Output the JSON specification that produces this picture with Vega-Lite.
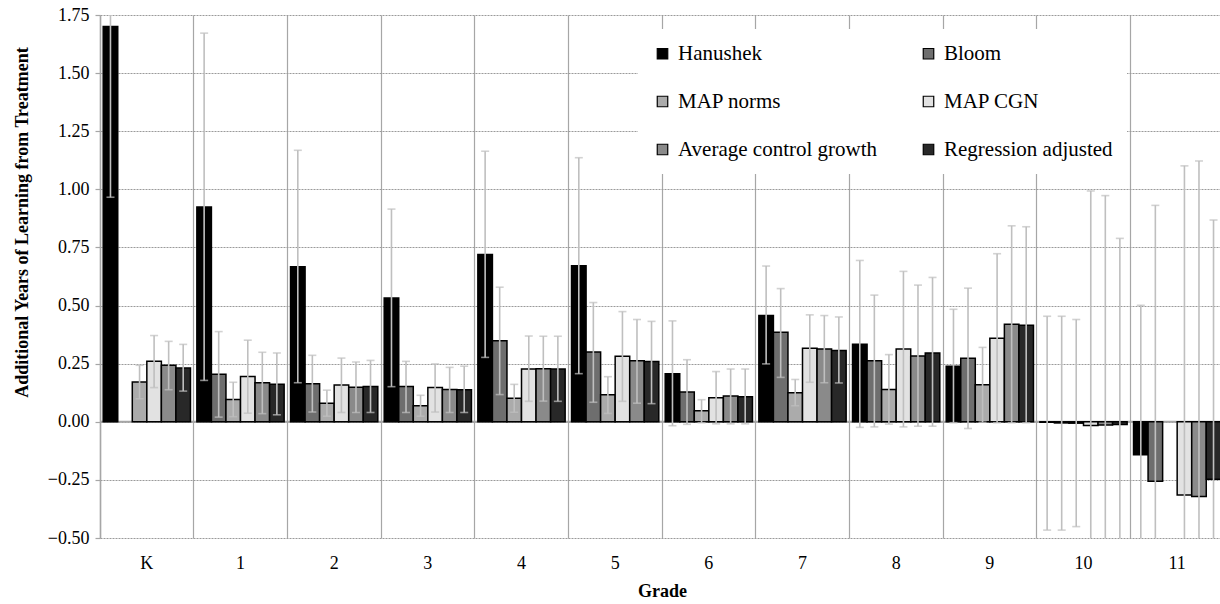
{
  "$schema": "https://vega.github.io/schema/vega-lite/v6.json",
  "width": 1120,
  "height": 523,
  "autosize": {"type": "none"},
  "padding": {"left": 100, "top": 15, "right": 0, "bottom": 66},
  "background": "white",
  "config": {
    "view": {"stroke": null},
    "font": "Liberation Serif, Times New Roman, DejaVu Serif, serif"
  },
  "data": {
    "values": [
      {"grade": "K", "series": "Hanushek", "v": 1.70, "lo": 0.966, "hi": 2.43},
      {"grade": "K", "series": "MAP norms", "v": 0.171, "lo": 0.099, "hi": 0.243},
      {"grade": "K", "series": "MAP CGN", "v": 0.260, "lo": 0.147, "hi": 0.371},
      {"grade": "K", "series": "Average control growth", "v": 0.243, "lo": 0.138, "hi": 0.346},
      {"grade": "K", "series": "Regression adjusted", "v": 0.231, "lo": 0.132, "hi": 0.333},

      {"grade": "1", "series": "Hanushek", "v": 0.924, "lo": 0.178, "hi": 1.672},
      {"grade": "1", "series": "Bloom", "v": 0.204, "lo": 0.020, "hi": 0.388},
      {"grade": "1", "series": "MAP norms", "v": 0.096, "lo": 0.022, "hi": 0.170},
      {"grade": "1", "series": "MAP CGN", "v": 0.195, "lo": 0.037, "hi": 0.351},
      {"grade": "1", "series": "Average control growth", "v": 0.168, "lo": 0.035, "hi": 0.299},
      {"grade": "1", "series": "Regression adjusted", "v": 0.161, "lo": 0.030, "hi": 0.296},

      {"grade": "2", "series": "Hanushek", "v": 0.667, "lo": 0.168, "hi": 1.168},
      {"grade": "2", "series": "Bloom", "v": 0.164, "lo": 0.042, "hi": 0.286},
      {"grade": "2", "series": "MAP norms", "v": 0.080, "lo": 0.024, "hi": 0.136},
      {"grade": "2", "series": "MAP CGN", "v": 0.158, "lo": 0.040, "hi": 0.274},
      {"grade": "2", "series": "Average control growth", "v": 0.149, "lo": 0.040, "hi": 0.257},
      {"grade": "2", "series": "Regression adjusted", "v": 0.152, "lo": 0.040, "hi": 0.264},

      {"grade": "3", "series": "Hanushek", "v": 0.532, "lo": 0.151, "hi": 0.915},
      {"grade": "3", "series": "Bloom", "v": 0.152, "lo": 0.040, "hi": 0.260},
      {"grade": "3", "series": "MAP norms", "v": 0.069, "lo": 0.024, "hi": 0.114},
      {"grade": "3", "series": "MAP CGN", "v": 0.147, "lo": 0.042, "hi": 0.249},
      {"grade": "3", "series": "Average control growth", "v": 0.139, "lo": 0.040, "hi": 0.234},
      {"grade": "3", "series": "Regression adjusted", "v": 0.138, "lo": 0.040, "hi": 0.239},

      {"grade": "4", "series": "Hanushek", "v": 0.720, "lo": 0.277, "hi": 1.164},
      {"grade": "4", "series": "Bloom", "v": 0.349, "lo": 0.117, "hi": 0.579},
      {"grade": "4", "series": "MAP norms", "v": 0.101, "lo": 0.041, "hi": 0.161},
      {"grade": "4", "series": "MAP CGN", "v": 0.227, "lo": 0.088, "hi": 0.369},
      {"grade": "4", "series": "Average control growth", "v": 0.228, "lo": 0.089, "hi": 0.368},
      {"grade": "4", "series": "Regression adjusted", "v": 0.227, "lo": 0.088, "hi": 0.368},

      {"grade": "5", "series": "Hanushek", "v": 0.671, "lo": 0.207, "hi": 1.136},
      {"grade": "5", "series": "Bloom", "v": 0.300, "lo": 0.084, "hi": 0.513},
      {"grade": "5", "series": "MAP norms", "v": 0.116, "lo": 0.036, "hi": 0.194},
      {"grade": "5", "series": "MAP CGN", "v": 0.282, "lo": 0.088, "hi": 0.474},
      {"grade": "5", "series": "Average control growth", "v": 0.263, "lo": 0.080, "hi": 0.440},
      {"grade": "5", "series": "Regression adjusted", "v": 0.259, "lo": 0.078, "hi": 0.432},

      {"grade": "6", "series": "Hanushek", "v": 0.207, "lo": -0.017, "hi": 0.434},
      {"grade": "6", "series": "Bloom", "v": 0.128, "lo": -0.011, "hi": 0.267},
      {"grade": "6", "series": "MAP norms", "v": 0.047, "lo": -0.004, "hi": 0.095},
      {"grade": "6", "series": "MAP CGN", "v": 0.103, "lo": -0.009, "hi": 0.216},
      {"grade": "6", "series": "Average control growth", "v": 0.111, "lo": -0.009, "hi": 0.227},
      {"grade": "6", "series": "Regression adjusted", "v": 0.108, "lo": -0.009, "hi": 0.227},

      {"grade": "7", "series": "Hanushek", "v": 0.457, "lo": 0.249, "hi": 0.670},
      {"grade": "7", "series": "Bloom", "v": 0.385, "lo": 0.191, "hi": 0.573},
      {"grade": "7", "series": "MAP norms", "v": 0.125, "lo": 0.069, "hi": 0.182},
      {"grade": "7", "series": "MAP CGN", "v": 0.316, "lo": 0.170, "hi": 0.460},
      {"grade": "7", "series": "Average control growth", "v": 0.313, "lo": 0.168, "hi": 0.457},
      {"grade": "7", "series": "Regression adjusted", "v": 0.307, "lo": 0.167, "hi": 0.451},

      {"grade": "8", "series": "Hanushek", "v": 0.333, "lo": -0.024, "hi": 0.694},
      {"grade": "8", "series": "Bloom", "v": 0.263, "lo": -0.022, "hi": 0.545},
      {"grade": "8", "series": "MAP norms", "v": 0.139, "lo": -0.010, "hi": 0.289},
      {"grade": "8", "series": "MAP CGN", "v": 0.313, "lo": -0.022, "hi": 0.647},
      {"grade": "8", "series": "Average control growth", "v": 0.283, "lo": -0.019, "hi": 0.588},
      {"grade": "8", "series": "Regression adjusted", "v": 0.296, "lo": -0.019, "hi": 0.621},

      {"grade": "9", "series": "Hanushek", "v": 0.239, "lo": -0.004, "hi": 0.484},
      {"grade": "9", "series": "Bloom", "v": 0.273, "lo": -0.029, "hi": 0.575},
      {"grade": "9", "series": "MAP norms", "v": 0.159, "lo": -0.002, "hi": 0.320},
      {"grade": "9", "series": "MAP CGN", "v": 0.359, "lo": -0.004, "hi": 0.723},
      {"grade": "9", "series": "Average control growth", "v": 0.420, "lo": -0.004, "hi": 0.843},
      {"grade": "9", "series": "Regression adjusted", "v": 0.415, "lo": -0.004, "hi": 0.839},

      {"grade": "10", "series": "Hanushek", "v": -0.002, "lo": -0.466, "hi": 0.454},
      {"grade": "10", "series": "Bloom", "v": -0.005, "lo": -0.466, "hi": 0.454},
      {"grade": "10", "series": "MAP norms", "v": -0.006, "lo": -0.451, "hi": 0.440},
      {"grade": "10", "series": "MAP CGN", "v": -0.016, "lo": -1.02, "hi": 0.993},
      {"grade": "10", "series": "Average control growth", "v": -0.014, "lo": -1.00, "hi": 0.973},
      {"grade": "10", "series": "Regression adjusted", "v": -0.012, "lo": -0.81, "hi": 0.789},

      {"grade": "11", "series": "Hanushek", "v": -0.142, "lo": -0.79, "hi": 0.501},
      {"grade": "11", "series": "Bloom", "v": -0.256, "lo": -1.44, "hi": 0.931},
      {"grade": "11", "series": "MAP CGN", "v": -0.315, "lo": -1.73, "hi": 1.101},
      {"grade": "11", "series": "Average control growth", "v": -0.322, "lo": -1.77, "hi": 1.122},
      {"grade": "11", "series": "Regression adjusted", "v": -0.247, "lo": -1.36, "hi": 0.868}
    ]
  },
  "layer": [
    {
      "data": {"values": [{}]},
      "mark": {"type": "rule", "color": "#a6a6a6", "strokeWidth": 2},
      "encoding": {
        "y": {"datum": 0, "type": "quantitative"}
      }
    },
    {
      "mark": {"type": "bar", "stroke": "black", "strokeWidth": 1.5},
      "encoding": {
        "x": {
          "field": "grade", "type": "nominal",
          "sort": ["K", "1", "2", "3", "4", "5", "6", "7", "8", "9", "10", "11"],
          "scale": {"range": [0, 1124], "paddingInner": 0, "paddingOuter": 0},
          "axis": {
            "title": "Grade",
            "titleFont": "Liberation Serif, Times New Roman, DejaVu Serif, serif", "titleFontSize": 18, "titleFontWeight": "bold", "titleColor": "black",
            "titlePadding": 10,
            "labelFont": "Liberation Serif, Times New Roman, DejaVu Serif, serif", "labelFontSize": 18, "labelColor": "black",
            "labelAngle": 0, "labelPadding": 16,
            "domain": false, "ticks": false,
            "grid": true, "gridColor": "#a6a6a6", "gridWidth": 1.2, "bandPosition": 0
          }
        },
        "xOffset": {
          "field": "series", "type": "nominal",
          "scale": {
            "domain": ["Hanushek", "Bloom", "MAP norms", "MAP CGN", "Average control growth", "Regression adjusted"],
            "paddingInner": 0, "paddingOuter": 0.22
          }
        },
        "y": {
          "field": "v", "type": "quantitative",
          "scale": {"domain": [-0.5, 1.75], "nice": false, "zero": false},
          "axis": {
            "title": "Additional Years of Learning from Treatment",
            "titleFont": "Liberation Serif, Times New Roman, DejaVu Serif, serif", "titleFontSize": 18, "titleFontWeight": "bold", "titleColor": "black",
            "titlePadding": 16, "titleY": 207,
            "values": [-0.5, -0.25, 0, 0.25, 0.5, 0.75, 1, 1.25, 1.5, 1.75],
            "format": ".2f",
            "labelFont": "Liberation Serif, Times New Roman, DejaVu Serif, serif", "labelFontSize": 18, "labelColor": "black", "labelPadding": 6,
            "tickSize": 5, "tickColor": "#a6a6a6", "tickWidth": 1.2,
            "domainColor": "#a6a6a6", "domainWidth": 1.5,
            "grid": true, "gridColor": "#9a9a9a", "gridDash": [2, 1], "gridWidth": 1
          }
        },
        "fill": {
          "field": "series", "type": "nominal",
          "scale": {
            "domain": ["Hanushek", "Bloom", "MAP norms", "MAP CGN", "Average control growth", "Regression adjusted"],
            "range": ["#000000", "#6e6e6e", "#ababab", "#e2e2e2", "#8a8a8a", "#282828"]
          },
          "legend": {
            "title": null,
            "orient": "none", "legendX": 538, "legendY": 14,
            "direction": "horizontal",
            "columns": 2, "gridAlign": "all",
            "symbolType": "square", "symbolSize": 110,
            "symbolStrokeColor": "black", "symbolStrokeWidth": 1.2, "symbolOpacity": 1,
            "labelFont": "Liberation Serif, Times New Roman, DejaVu Serif, serif", "labelFontSize": 21, "labelColor": "black",
            "labelOffset": 5, "labelLimit": 400,
            "rowPadding": 26, "columnPadding": 40,
            "fillColor": "white", "padding": 14
          }
        }
      }
    },
    {
      "mark": {"type": "rule", "color": "#bfbfbf", "strokeWidth": 1.6, "clip": true},
      "encoding": {
        "x": {"field": "grade", "type": "nominal", "sort": ["K", "1", "2", "3", "4", "5", "6", "7", "8", "9", "10", "11"]},
        "xOffset": {"field": "series", "type": "nominal"},
        "y": {"field": "lo", "type": "quantitative"},
        "y2": {"field": "hi"}
      }
    },
    {
      "mark": {"type": "tick", "color": "#bfbfbf", "thickness": 1.6, "size": 8, "clip": true},
      "encoding": {
        "x": {"field": "grade", "type": "nominal", "sort": ["K", "1", "2", "3", "4", "5", "6", "7", "8", "9", "10", "11"]},
        "xOffset": {"field": "series", "type": "nominal"},
        "y": {"field": "lo", "type": "quantitative"}
      }
    },
    {
      "mark": {"type": "tick", "color": "#bfbfbf", "thickness": 1.6, "size": 8, "clip": true},
      "encoding": {
        "x": {"field": "grade", "type": "nominal", "sort": ["K", "1", "2", "3", "4", "5", "6", "7", "8", "9", "10", "11"]},
        "xOffset": {"field": "series", "type": "nominal"},
        "y": {"field": "hi", "type": "quantitative"}
      }
    }
  ]
}
